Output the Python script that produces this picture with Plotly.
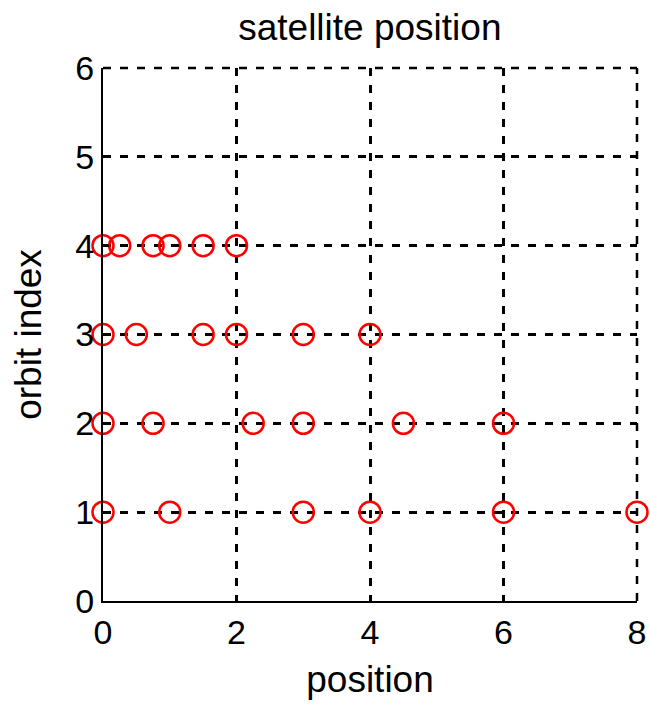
import plotly.graph_objects as go

# Satellite positions along each orbit
orbit_indices = [1, 2, 3, 4]
positions_orbit1 = [0, 1, 3, 4, 6, 8]
positions_orbit2 = [0, 0.75, 2.25, 3, 4.5, 6]
positions_orbit3 = [0, 0.5, 1.5, 2, 3, 4]
positions_orbit4 = [0, 0.25, 0.75, 1, 1.5, 2]

x_ticks = [0, 2, 4, 6, 8]
y_ticks = [0, 1, 2, 3, 4, 5, 6]
x_range = [0, 8]
y_range = [0, 6]

all_positions = [positions_orbit1, positions_orbit2, positions_orbit3, positions_orbit4]
xs, ys = [], []
for idx, pos in zip(orbit_indices, all_positions):
    xs.extend(pos)
    ys.extend([idx] * len(pos))

FONT = "Liberation Sans, Arial, sans-serif"
DASH = "8px,9px"
GRID_W = 2.5

fig = go.Figure()
fig.add_trace(go.Scatter(
    x=xs, y=ys, mode="markers",
    marker=dict(symbol="circle-open", size=21, color="#ff0000", line=dict(width=2.5, color="#ff0000")),
    cliponaxis=False, showlegend=False,
))

axis_common = dict(
    showgrid=True, gridcolor="black", gridwidth=GRID_W, griddash=DASH,
    showline=True, linecolor="black", linewidth=2,
    zeroline=False, ticks="inside", ticklen=6, tickwidth=2, tickcolor="black",
    tickfont=dict(family=FONT, size=34, color="black"),
)

fig.update_xaxes(range=x_range, tickvals=x_ticks,
                 title=dict(text="position", font=dict(family=FONT, size=37, color="black"), standoff=16),
                 **axis_common)
fig.update_yaxes(range=y_range, tickvals=y_ticks,
                 title=dict(text="orbit index", font=dict(family=FONT, size=37, color="black"), standoff=22),
                 **axis_common)

# Grid lines along the upper and right limits of the axes (paper refs so they are not clipped)
fig.add_shape(type="line", xref="paper", yref="paper", x0=0, x1=1, y0=1, y1=1,
              line=dict(color="black", width=GRID_W, dash=DASH), layer="below")
fig.add_shape(type="line", xref="paper", yref="paper", x0=1, x1=1, y0=0, y1=1,
              line=dict(color="black", width=GRID_W, dash=DASH), layer="below")

fig.update_layout(
    width=650, height=704,
    margin=dict(l=103, r=13, t=68, b=103, autoexpand=False),
    plot_bgcolor="white", paper_bgcolor="white",
    title=dict(text="satellite position", font=dict(family=FONT, size=37, color="black"),
               x=0.569, xanchor="center", y=1 - 27 / 704, yanchor="middle", yref="container"),
)

fig.write_html("out.html")
